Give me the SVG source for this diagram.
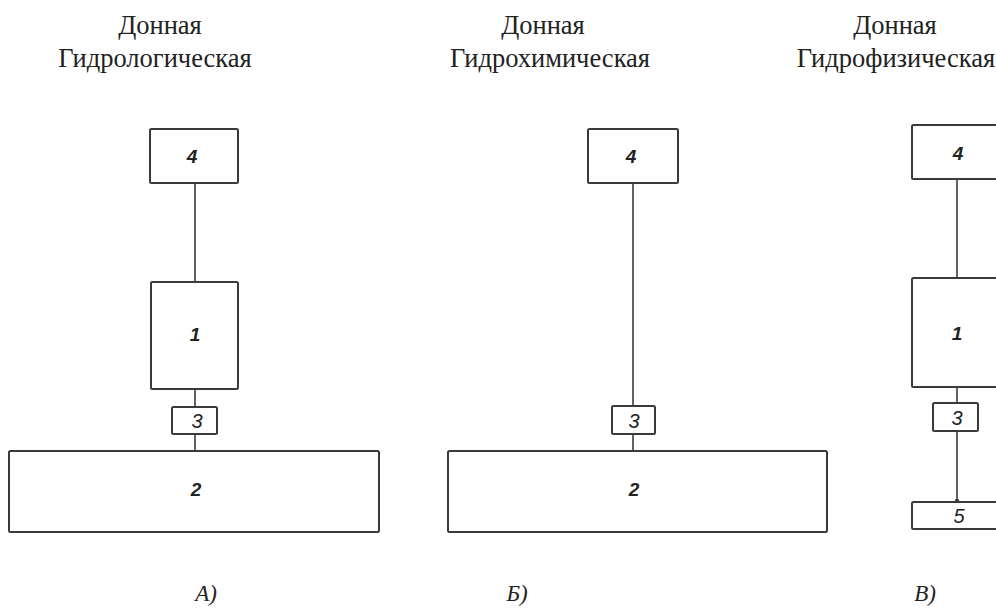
<svg xmlns="http://www.w3.org/2000/svg" width="996" height="616" viewBox="0 0 996 616">
  <style>
    .box { fill: #ffffff; stroke: #3a3a3a; stroke-width: 2; }
    .wire { stroke: #3a3a3a; stroke-width: 1.6; fill: none; }
    .num { font-family: "Liberation Sans", Arial, sans-serif; font-style: italic; font-weight: bold; font-size: 19px; fill: #222; text-anchor: middle; }
    .num-light { font-family: "Liberation Sans", Arial, sans-serif; font-style: italic; font-size: 20px; fill: #222; text-anchor: middle; }
    .title { font-family: "Liberation Serif", "Times New Roman", serif; font-size: 26.5px; fill: #222; text-anchor: middle; }
    .cap { font-family: "Liberation Serif", "Times New Roman", serif; font-style: italic; font-size: 23px; fill: #222; text-anchor: middle; }
  </style>

  <rect width="996" height="616" fill="#ffffff"/>

  <!-- Titles -->
  <g id="titles">
    <text class="title" x="160" y="34">Донная</text>
    <text class="title" x="155" y="67">Гидрологическая</text>
    <text class="title" x="543" y="34">Донная</text>
    <text class="title" x="550" y="67">Гидрохимическая</text>
    <text class="title" x="895" y="34">Донная</text>
    <text class="title" x="896" y="67">Гидрофизическая</text>
  </g>

  <!-- Connectors -->
  <g id="connectors">
    <line class="wire" x1="195" y1="183" x2="195" y2="282"/>
    <line class="wire" x1="195" y1="389" x2="195" y2="407"/>
    <line class="wire" x1="195" y1="434" x2="195" y2="451"/>
    <line class="wire" x1="633" y1="183" x2="633" y2="406"/>
    <line class="wire" x1="633" y1="434" x2="633" y2="451"/>
    <line class="wire" x1="957" y1="179" x2="957" y2="278"/>
    <line class="wire" x1="957" y1="387" x2="957" y2="403"/>
    <line class="wire" x1="957" y1="431" x2="957" y2="502"/>
    <circle cx="957" cy="501" r="2.2" fill="#3a3a3a"/>
  </g>

  <!-- Variant A -->
  <g id="a-node4">
    <rect class="box" x="150" y="129" width="88" height="54" rx="1.5"/>
    <text class="num" x="192" y="163">4</text>
  </g>
  <g id="a-node1">
    <rect class="box" x="151" y="282" width="87" height="107" rx="1.5"/>
    <text class="num" x="195" y="341">1</text>
  </g>
  <g id="a-node3">
    <rect class="box" x="172" y="407" width="45" height="27" rx="1.5"/>
    <text class="num-light" x="197" y="428">3</text>
  </g>
  <g id="a-node2">
    <rect class="box" x="9" y="451" width="370" height="81" rx="1.5"/>
    <text class="num" x="196" y="496">2</text>
  </g>

  <!-- Variant B -->
  <g id="b-node4">
    <rect class="box" x="588" y="129" width="90" height="54" rx="1.5"/>
    <text class="num" x="631" y="163">4</text>
  </g>
  <g id="b-node3">
    <rect class="box" x="612" y="406" width="43" height="28" rx="1.5"/>
    <text class="num-light" x="634" y="428">3</text>
  </g>
  <g id="b-node2">
    <rect class="box" x="448" y="451" width="379" height="81" rx="1.5"/>
    <text class="num" x="634" y="496">2</text>
  </g>

  <!-- Variant C -->
  <g id="c-node4">
    <rect class="box" x="912" y="125" width="92" height="54" rx="1.5"/>
    <text class="num" x="958" y="160">4</text>
  </g>
  <g id="c-node1">
    <rect class="box" x="912" y="278" width="92" height="109" rx="1.5"/>
    <text class="num" x="957" y="340">1</text>
  </g>
  <g id="c-node3">
    <rect class="box" x="933" y="403" width="45" height="28" rx="1.5"/>
    <text class="num-light" x="957" y="425">3</text>
  </g>
  <g id="c-node5">
    <rect class="box" x="912" y="502" width="92" height="27" rx="1.5"/>
    <text class="num-light" x="959" y="523">5</text>
  </g>

  <!-- Variant captions -->
  <g id="captions">
    <text class="cap" x="206" y="601">A)</text>
    <text class="cap" x="517" y="601">Б)</text>
    <text class="cap" x="925" y="601">В)</text>
  </g>
</svg>
